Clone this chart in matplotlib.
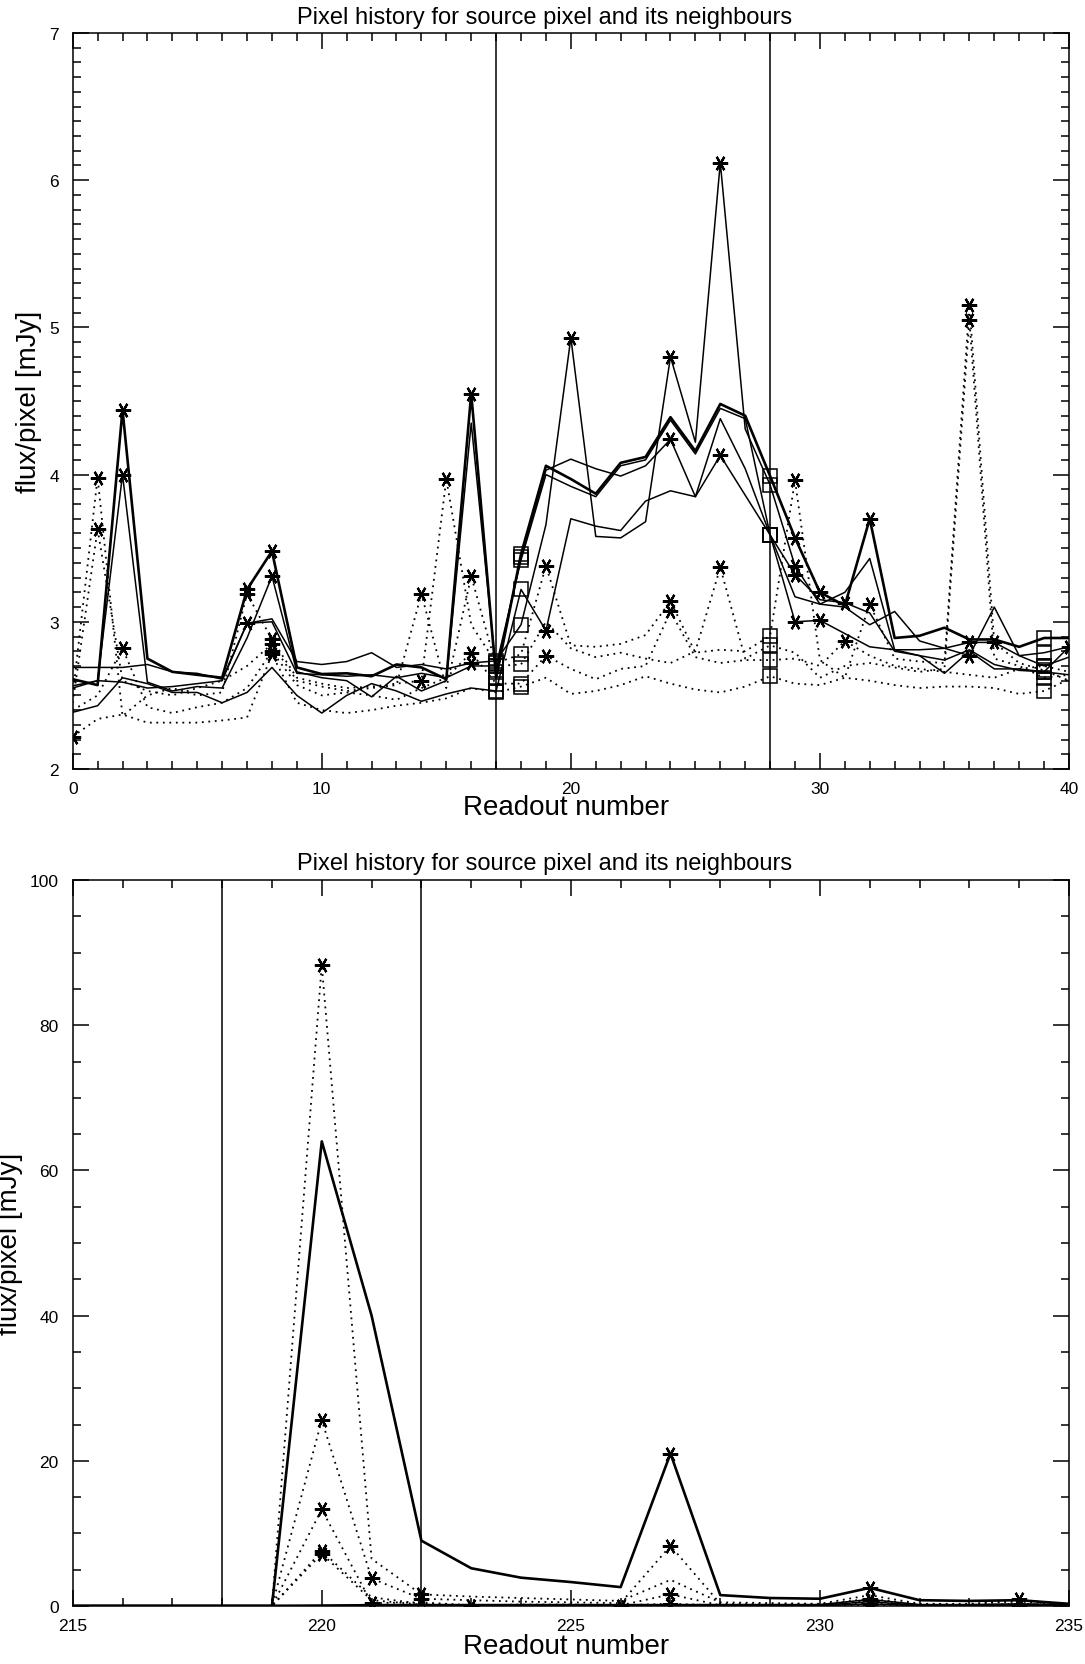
import matplotlib
matplotlib.use("Agg")
import matplotlib.pyplot as plt
from matplotlib import font_manager
from matplotlib.ticker import MultipleLocator
import numpy as np

# condensed sans for titles / axis labels, if the narrow face is there
names = {f.name for f in font_manager.fontManager.ttflist}
if "Liberation Sans Narrow" in names:
    LABEL_FONT, TSIZE, LSIZE = "Liberation Sans Narrow", 21, 25
else:
    LABEL_FONT, TSIZE, LSIZE = "Liberation Sans", 17, 20
TICK_FONT = "Liberation Sans"

TITLE = "Pixel history for source pixel and its neighbours"
XLABEL = "Readout number"
YLABEL = "flux/pixel [mJy]"

# ---------------- readouts 0..40 ----------------
readout_a = list(range(0, 41))
limits_a = [17, 28]
boxed_a = [17, 18, 28, 39]

src_a = [2.61, 2.57, 4.44, 2.75, 2.66, 2.64, 2.62, 3.22, 3.48, 2.69, 2.645, 2.65, 2.63, 2.71,
         2.69, 2.61, 4.55, 2.62, 3.46, 4.06, 3.97, 3.87, 4.08, 4.12, 4.39, 4.16, 4.48, 4.40,
         3.99, 3.57, 3.20, 3.11, 3.70, 2.89, 2.905, 2.96, 2.88, 2.88, 2.83, 2.89, 2.89]
nb1_a = [2.69, 2.69, 2.69, 2.71, 2.66, 2.65, 2.61, 2.99, 3.02, 2.73, 2.71, 2.73, 2.79, 2.69,
         2.71, 2.68, 2.72, 2.735, 2.98, 3.66, 4.93, 3.58, 3.57, 3.68, 4.80, 4.22, 6.12, 4.31,
         3.93, 3.38, 3.12, 3.20, 3.43, 2.81, 2.81, 2.82, 2.86, 2.86, 2.77, 2.79, 2.83]
nb2_a = [2.565, 2.60, 4.00, 2.59, 2.53, 2.56, 2.55, 2.89, 3.31, 2.66, 2.62, 2.60, 2.49, 2.63,
         2.53, 2.60, 4.35, 2.66, 3.44, 4.03, 4.105, 4.04, 3.99, 4.06, 4.24, 3.85, 4.13, 3.86,
         3.59, 3.17, 3.12, 3.10, 2.98, 3.07, 2.87, 2.82, 2.77, 3.10, 2.77, 2.70, 2.76]
nb3_a = [2.385, 2.43, 2.62, 2.58, 2.52, 2.52, 2.45, 2.52, 2.69, 2.50, 2.38, 2.50, 2.58, 2.53,
         2.46, 2.51, 2.55, 2.53, 3.22, 2.94, 3.70, 3.65, 3.62, 3.82, 3.89, 3.85, 4.38, 4.04,
         3.59, 3.00, 3.01, 2.92, 2.83, 2.81, 2.77, 2.65, 2.80, 2.68, 2.68, 2.66, 2.83]
nb4_a = [2.55, 2.60, 2.59, 2.55, 2.56, 2.58, 2.60, 2.99, 3.00, 2.65, 2.64, 2.63, 2.64, 2.62,
         2.65, 2.62, 2.70, 2.70, 3.42, 4.00, 3.92, 3.85, 4.06, 4.10, 4.37, 4.14, 4.45, 4.38,
         3.59, 3.32, 3.15, 3.13, 3.06, 2.80, 2.77, 2.74, 2.81, 2.71, 2.67, 2.66, 2.64]
nb5_a = [2.22, 2.34, 2.37, 2.315, 2.315, 2.315, 2.33, 2.35, 2.78, 2.45, 2.40, 2.38, 2.40, 2.43,
         2.45, 2.48, 2.55, 2.52, 2.56, 2.62, 2.51, 2.53, 2.57, 2.63, 2.58, 2.54, 2.52, 2.56,
         2.63, 2.58, 2.57, 2.62, 2.60, 2.57, 2.55, 2.56, 2.56, 2.55, 2.51, 2.53, 2.61]
nb6_a = [2.50, 3.98, 2.36, 2.50, 2.55, 2.50, 2.52, 3.19, 2.88, 2.62, 2.58, 2.55, 2.56, 2.58,
         2.60, 3.97, 2.98, 2.72, 2.78, 3.38, 2.84, 2.83, 2.85, 2.91, 3.14, 2.79, 2.81, 2.80,
         2.905, 3.96, 2.74, 2.62, 3.12, 2.75, 2.73, 2.72, 5.15, 2.86, 2.72, 2.67, 2.60]
nb7_a = [2.45, 3.63, 2.60, 2.53, 2.50, 2.55, 2.60, 2.70, 2.85, 2.60, 2.56, 2.53, 2.55, 2.57,
         3.19, 2.55, 3.31, 2.70, 2.71, 3.00, 2.82, 2.76, 2.79, 2.75, 2.72, 2.80, 3.37, 2.75,
         2.84, 2.79, 2.62, 2.70, 2.72, 2.69, 2.66, 2.68, 5.05, 2.75, 2.70, 2.62, 2.64]
nb8_a = [2.40, 2.50, 2.82, 2.42, 2.38, 2.42, 2.45, 2.55, 2.80, 2.57, 2.50, 2.52, 2.50, 2.47,
         2.55, 2.62, 2.79, 2.58, 2.58, 2.77, 2.68, 2.61, 2.68, 2.70, 3.07, 2.76, 2.72, 2.74,
         2.74, 2.75, 2.70, 2.87, 2.77, 2.70, 2.68, 2.66, 2.64, 2.62, 2.68, 2.70, 2.66]

# readouts flagged as glitches, per pixel
glitch_a = [[2, 7, 8, 16, 29, 30, 32],
            [7, 16, 20, 24, 26, 29, 36, 40],
            [2, 8, 24, 26, 36],
            [19, 29, 30],
            [29, 31],
            [0, 8],
            [1, 7, 8, 14, 15, 19, 24, 29, 32, 36, 37],
            [1, 8, 14, 16, 26, 36],
            [2, 8, 16, 19, 24, 31]]

# ---------------- readouts 215..235 ----------------
readout_b = list(range(215, 236))
limits_b = [218, 222]

src_b = [0, 0, 0, 0, 0, 64.0, 40.0, 9.0, 5.2, 3.9, 3.3, 2.6, 21.0, 1.5, 1.1, 1.0, 2.5, 0.8,
         0.7, 0.8, 0.3]
nb1_b = [0.1, 0.1, 0.1, 0.1, 0.1, 0.1, 0.2, 0.2, 0.2, 0.2, 0.2, 0.2, 0.2, 0.2, 0.2, 0.2, 0.9,
         0.2, 0.2, 0.3, 0.2]
nb2_b = [0.05, 0.05, 0.05, 0.05, 0.05, 0.1, 0.1, 0.1, 0.1, 0.1, 0.1, 0.1, 0.1, 0.1, 0.1, 0.1,
         0.6, 0.1, 0.1, 0.2, 0.1]
nb3_b = [0, 0, 0, 0, 0, 0.05, 0.05, 0.05, 0.05, 0.05, 0.05, 0.05, 0.05, 0.05, 0.05, 0.05,
         0.3, 0.05, 0.05, 0.1, 0.05]
nb4_b = [0, 0, 0, 0, 0, 88.3, 6.5, 1.6, 1.3, 1.1, 0.9, 0.7, 3.6, 0.5, 0.4, 0.3, 1.5, 0.3, 0.3,
         0.6, 0.2]
nb5_b = [0, 0, 0, 0, 0, 25.6, 3.8, 1.0, 0.8, 0.6, 0.5, 0.4, 8.3, 0.3, 0.2, 0.2, 1.0, 0.2, 0.2,
         0.9, 0.1]
nb6_b = [0, 0, 0, 0, 0, 13.3, 0.4, 0.5, 0.1, 0.2, 0.2, 0.1, 1.6, 0.1, 0.1, 0.1, 0.8, 0.1, 0.1,
         0.3, 0.1]
nb7_b = [0, 0, 0, 0, 0, 7.6, 1.2, 0.3, 0.1, 0.1, 0.1, 0.1, 0.3, 0.1, 0.1, 0.1, 0.4, 0.1, 0.1,
         0.2, 0.1]
nb8_b = [0, 0, 0, 0, 0, 7.2, 0.8, 0.2, 0.0, 0.0, 0.0, 0.0, 0.2, 0.0, 0.0, 0.0, 0.2, 0.0, 0.0,
         0.1, 0.0]

glitch_b = [[227, 231], [231], [], [231], [220, 222], [220, 221, 222, 227, 234],
            [220, 221, 227, 231], [220, 227, 234], [220, 223, 226]]

SOLID = dict(ls="-", lw=1.1, color="black")
THICK = dict(ls="-", lw=1.9, color="black")
DOTTED = dict(ls=(0, (1, 2.6)), lw=1.3, color="black")

styles_a = [THICK, SOLID, SOLID, SOLID, SOLID, DOTTED, DOTTED, DOTTED, DOTTED]
styles_b = [THICK, SOLID, SOLID, SOLID, DOTTED, DOTTED, DOTTED, DOTTED, DOTTED]

STAR = dict(marker=(6, 2, 90), ms=11, mew=1.6, color="black", ls="none")
BOX = dict(marker="s", ms=9.5, mew=1.1, mfc="none", mec="black", ls="none")


def frame(ax, xlim, ylim, xmaj, ymaj, ymin):
    ax.set_xlim(*xlim)
    ax.set_ylim(*ylim)
    ax.xaxis.set_major_locator(MultipleLocator(xmaj))
    ax.xaxis.set_minor_locator(MultipleLocator(1))
    ax.yaxis.set_major_locator(MultipleLocator(ymaj))
    ax.yaxis.set_minor_locator(MultipleLocator(ymin))
    ax.tick_params(which="both", direction="in", top=True, right=True, width=1.1,
                   labelsize=12.5)
    ax.tick_params(which="major", length=11.5)
    ax.tick_params(which="minor", length=5.8)
    ax.tick_params(axis="x", pad=9)
    ax.tick_params(axis="y", pad=10)
    for lab in ax.get_xticklabels() + ax.get_yticklabels():
        lab.set_family(TICK_FONT)
    for s in ax.spines.values():
        s.set_linewidth(1.1)
    ax.set_ylabel(YLABEL, family=LABEL_FONT, fontsize=LSIZE, labelpad=5)


def draw(ax, x, series, styles, glitches, limits, boxed=()):
    x = np.asarray(x)
    for v in limits:
        ax.axvline(v, color="black", lw=1.1)
    for y, st, gl in zip(series, styles, glitches):
        y = np.asarray(y)
        ax.plot(x, y, **st)
        g = np.isin(x, gl)
        ax.plot(x[g], y[g], **STAR)
        if len(boxed):
            b = np.isin(x, boxed)
            ax.plot(x[b], y[b], **BOX)


fig = plt.figure(figsize=(10.85, 16.65), dpi=100)
W, H = 1085, 1665
ax1 = fig.add_axes([72.7 / W, 1 - 770 / H, (1069 - 72.7) / W, (770 - 34) / H])
ax2 = fig.add_axes([72.7 / W, 1 - 1607 / H, (1069 - 72.7) / W, (1607 - 881) / H])

draw(ax1, readout_a,
     [src_a, nb1_a, nb2_a, nb3_a, nb4_a, nb5_a, nb6_a, nb7_a, nb8_a],
     styles_a, glitch_a, limits_a, boxed_a)
frame(ax1, (0, 40), (2, 7), 10, 1, 0.1)

draw(ax2, readout_b,
     [src_b, nb1_b, nb2_b, nb3_b, nb4_b, nb5_b, nb6_b, nb7_b, nb8_b],
     styles_b, glitch_b, limits_b)
frame(ax2, (215, 235), (0, 100), 5, 20, 5)

fig.text(545 / W, 1 - 18 / H, TITLE, ha="center", va="center",
         family=LABEL_FONT, fontsize=TSIZE)
fig.text(545 / W, 1 - 864 / H, TITLE, ha="center", va="center",
         family=LABEL_FONT, fontsize=TSIZE)
fig.text(566 / W, 1 - 808 / H, XLABEL, ha="center", va="center",
         family=LABEL_FONT, fontsize=LSIZE)
fig.text(566 / W, 1 - 1647 / H, XLABEL, ha="center", va="center",
         family=LABEL_FONT, fontsize=LSIZE)

fig.savefig("out.png", dpi=100)
